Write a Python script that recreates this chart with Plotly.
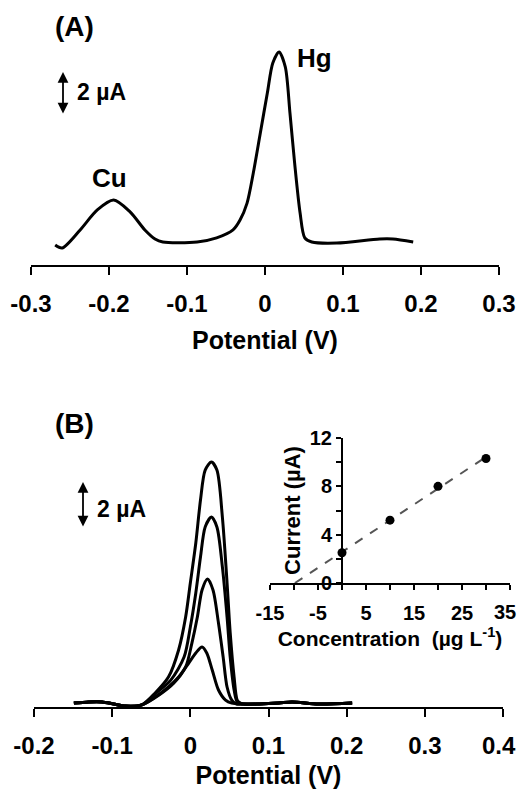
import numpy as np
import plotly.graph_objects as go

# ---------------- Panel A data (Potential V, current µA) ----------------
potA = [-0.269, -0.260, -0.237, -0.215, -0.194, -0.173, -0.154, -0.141, -0.131,
        -0.087, -0.062, -0.041, -0.032, -0.023, -0.015, -0.006, 0.003, 0.010,
        0.018, 0.026, 0.032, 0.038, 0.045, 0.051, 0.060, 0.092, 0.147, 0.164, 0.190]
curA = [0.93, 0.79, 1.63, 2.56, 3.02, 2.47, 1.63, 1.21, 1.07,
        1.07, 1.26, 1.63, 2.09, 2.88, 4.28, 6.14, 8.00, 9.40,
        9.91, 9.21, 7.07, 4.74, 2.42, 1.26, 1.07, 1.02, 1.21, 1.21, 1.07]
ticksA = [-0.3, -0.2, -0.1, 0, 0.1, 0.2, 0.3]
tick_textA = ["-0.3", "-0.2", "-0.1", "0", "0.1", "0.2", "0.3"]

# ---------------- Panel B data ----------------
base_left_pot = [-0.149, -0.130, -0.113, -0.098, -0.083, -0.062]
base_left_cur = [0.17, 0.22, 0.22, 0.13, 0.04, 0.09]
base_right_pot = [0.068, 0.088, 0.113, 0.130, 0.164, 0.207]
base_right_cur = [0.13, 0.13, 0.17, 0.22, 0.13, 0.17]

peak30_pot = [-0.045, -0.028, -0.015, -0.006, 0.000, 0.007, 0.013, 0.019, 0.027,
              0.034, 0.041, 0.047, 0.051, 0.056, 0.060, 0.064]
peak30_cur = [0.61, 1.30, 2.48, 3.91, 5.39, 7.13, 9.00, 10.30, 10.65,
              10.30, 8.26, 5.39, 3.22, 1.30, 0.30, 0.17]
peak20_pot = [-0.045, -0.025, -0.008, 0.000, 0.007, 0.013, 0.019, 0.027,
              0.034, 0.041, 0.047, 0.051, 0.056, 0.060]
peak20_cur = [0.57, 1.17, 2.17, 3.48, 4.96, 6.52, 7.83, 8.26,
              7.83, 6.09, 3.91, 2.17, 0.74, 0.22]
peak10_pot = [-0.040, -0.021, -0.006, 0.002, 0.009, 0.015, 0.022, 0.029,
              0.036, 0.042, 0.047, 0.053, 0.059]
peak10_cur = [0.52, 1.04, 1.74, 2.78, 3.91, 5.09, 5.57, 5.09,
              3.65, 2.17, 0.87, 0.30, 0.13]
peak0_pot = [-0.045, -0.028, -0.015, -0.002, 0.007, 0.015, 0.021, 0.028,
             0.036, 0.045, 0.053]
peak0_cur = [0.43, 0.87, 1.30, 1.91, 2.35, 2.61, 2.35, 1.61,
             0.74, 0.30, 0.17]
ticksB = [-0.2, -0.1, 0, 0.1, 0.2, 0.3, 0.4]
tick_textB = ["-0.2", "-0.1", "0", "0.1", "0.2", "0.3", "0.4"]

# ---------------- Inset calibration data ----------------
conc = [0, 10, 20, 30]
peak_current = [2.5, 5.2, 8.0, 10.3]
inset_xticks = [-15, -10, -5, 0, 5, 10, 15, 20, 25, 30, 35]
inset_xtext = ["-15", "", "-5", "", "5", "", "15", "", "25", "", "35"]
inset_yticks = [0, 2, 4, 6, 8, 10, 12]
inset_ytext = ["0", "", "4", "", "8", "", "12"]

# page is 526x797; the html body keeps an 8 px margin, so the figure is 16 px smaller
PAD = 8
W, H = 526 - 2 * PAD, 797 - 2 * PAD
FONT = "Liberation Sans, Arial, sans-serif"
LW = 3

def px_x(p):
    return (p - PAD) / W

def px_y(p):
    return 1 - (p - PAD) / H

fig = go.Figure()

fig.add_trace(go.Scatter(x=potA, y=curA, mode="lines", xaxis="x", yaxis="y",
                         line=dict(color="black", width=LW, shape="spline", smoothing=0.8),
                         showlegend=False, hoverinfo="skip"))

for pp, cc in [(peak30_pot, peak30_cur), (peak20_pot, peak20_cur),
               (peak10_pot, peak10_cur), (peak0_pot, peak0_cur)]:
    xs = base_left_pot + pp + base_right_pot
    ys = base_left_cur + cc + base_right_cur
    fig.add_trace(go.Scatter(x=xs, y=ys, mode="lines", xaxis="x2", yaxis="y2",
                             line=dict(color="black", width=LW, shape="spline", smoothing=0.8),
                             showlegend=False, hoverinfo="skip"))

# calibration fit
slope, intercept = np.polyfit(conc, peak_current, 1)
x0 = -intercept / slope
fit_x = [x0, max(conc)]
fit_y = [slope * v + intercept for v in fit_x]
fig.add_trace(go.Scatter(x=fit_x, y=fit_y, mode="lines", xaxis="x3", yaxis="y3",
                         line=dict(color="#555555", width=2, dash="dash"),
                         showlegend=False, hoverinfo="skip"))
fig.add_trace(go.Scatter(x=conc, y=peak_current, mode="markers", xaxis="x3", yaxis="y3",
                         marker=dict(color="black", size=9),
                         showlegend=False, hoverinfo="skip"))

axis_common = dict(showline=True, linecolor="black", linewidth=2, ticks="outside",
                   ticklen=8, tickwidth=2, tickcolor="black", showgrid=False,
                   zeroline=False, tickmode="array", automargin=False,
                   ticklabeloverflow="allow")
bold = dict(family=FONT, color="black", weight="bold")

# the last tick label of panel B and of the inset sits at the right page edge:
# draw it as a right-anchored annotation so it is not clipped
tick_textB_axis = tick_textB[:-1] + [""]
inset_xtext_axis = inset_xtext[:-1] + [""]

fig.update_layout(
    width=W, height=H, autosize=False,
    margin=dict(l=0, r=0, t=0, b=0),
    paper_bgcolor="white", plot_bgcolor="rgba(0,0,0,0)",
    xaxis=dict(axis_common, domain=[px_x(31), px_x(499)], range=[-0.3, 0.3],
               tickvals=ticksA, ticktext=tick_textA, anchor="y",
               tickfont=dict(bold, size=24), ticklabelstandoff=8,
               title=dict(text="Potential (V)", font=dict(bold, size=25), standoff=16)),
    yaxis=dict(domain=[px_y(265), px_y(20)], range=[0, (265 - 20) / 21.5],
               visible=False, anchor="x", automargin=False),
    xaxis2=dict(axis_common, domain=[px_x(34), px_x(503)], range=[-0.2, 0.4],
                tickvals=ticksB, ticktext=tick_textB_axis, anchor="y2",
                tickfont=dict(bold, size=24), ticklabelstandoff=8,
                title=dict(text="Potential (V)", font=dict(bold, size=25), standoff=22)),
    yaxis2=dict(domain=[px_y(707), px_y(440)], range=[0, (707 - 440) / 23.0],
                visible=False, anchor="x2", automargin=False),
    xaxis3=dict(axis_common, domain=[px_x(270), px_x(510)], range=[-15, 35],
                tickvals=inset_xticks, ticktext=inset_xtext_axis, anchor="y3",
                ticklen=5, tickfont=dict(bold, size=20), ticklabelstandoff=6,
                title=dict(text="Concentration  (µg L<sup>-1</sup>)",
                           font=dict(bold, size=21), standoff=0)),
    yaxis3=dict(axis_common, domain=[px_y(583), px_y(438)], range=[0, 12],
                tickvals=inset_yticks, ticktext=inset_ytext, anchor="free",
                position=px_x(342), ticklen=5, tickfont=dict(bold, size=20),
                title=dict(text="Current (µA)", font=dict(bold, size=22), standoff=2)),
)

ann_center = dict(xanchor="center", yanchor="middle", showarrow=False)
annotations = [
    dict(ann_center, text="(A)", x=px_x(74), y=px_y(27), xref="paper", yref="paper",
         font=dict(bold, size=28)),
    dict(ann_center, text="(B)", x=px_x(74), y=px_y(423), xref="paper", yref="paper",
         font=dict(bold, size=28)),
    dict(ann_center, text="Hg", x=0.064, y=9.63, xref="x", yref="y",
         font=dict(bold, size=26)),
    dict(ann_center, text="Cu", x=-0.199, y=4.05, xref="x", yref="y",
         font=dict(bold, size=26)),
    dict(ann_center, text="2 µA", x=px_x(101), y=px_y(92), xref="paper", yref="paper",
         font=dict(bold, size=23)),
    dict(ann_center, text="2 µA", x=px_x(121), y=px_y(509), xref="paper", yref="paper",
         font=dict(bold, size=23)),
    dict(text=tick_textB[-1], x=1, y=px_y(745), xref="paper", yref="paper",
         xanchor="right", yanchor="middle", showarrow=False,
         font=dict(bold, size=24)),
    dict(text=inset_xtext[-1], x=1, y=px_y(612), xref="paper", yref="paper",
         xanchor="right", yanchor="middle", showarrow=False,
         font=dict(bold, size=20)),
    # scale arrows, 2 µA long in each panel's current units
    dict(text="", x=px_x(63), y=8.98, xref="paper", yref="y", ax=0, ay=6.98,
         axref="pixel", ayref="y", showarrow=True, arrowhead=2, arrowside="end+start",
         arrowwidth=1.8, arrowsize=1.2, arrowcolor="black"),
    dict(text="", x=px_x(83), y=9.78, xref="paper", yref="y2", ax=0, ay=7.78,
         axref="pixel", ayref="y2", showarrow=True, arrowhead=2, arrowside="end+start",
         arrowwidth=1.8, arrowsize=1.2, arrowcolor="black"),
]
fig.update_layout(annotations=annotations)

fig.write_html("out.html")
